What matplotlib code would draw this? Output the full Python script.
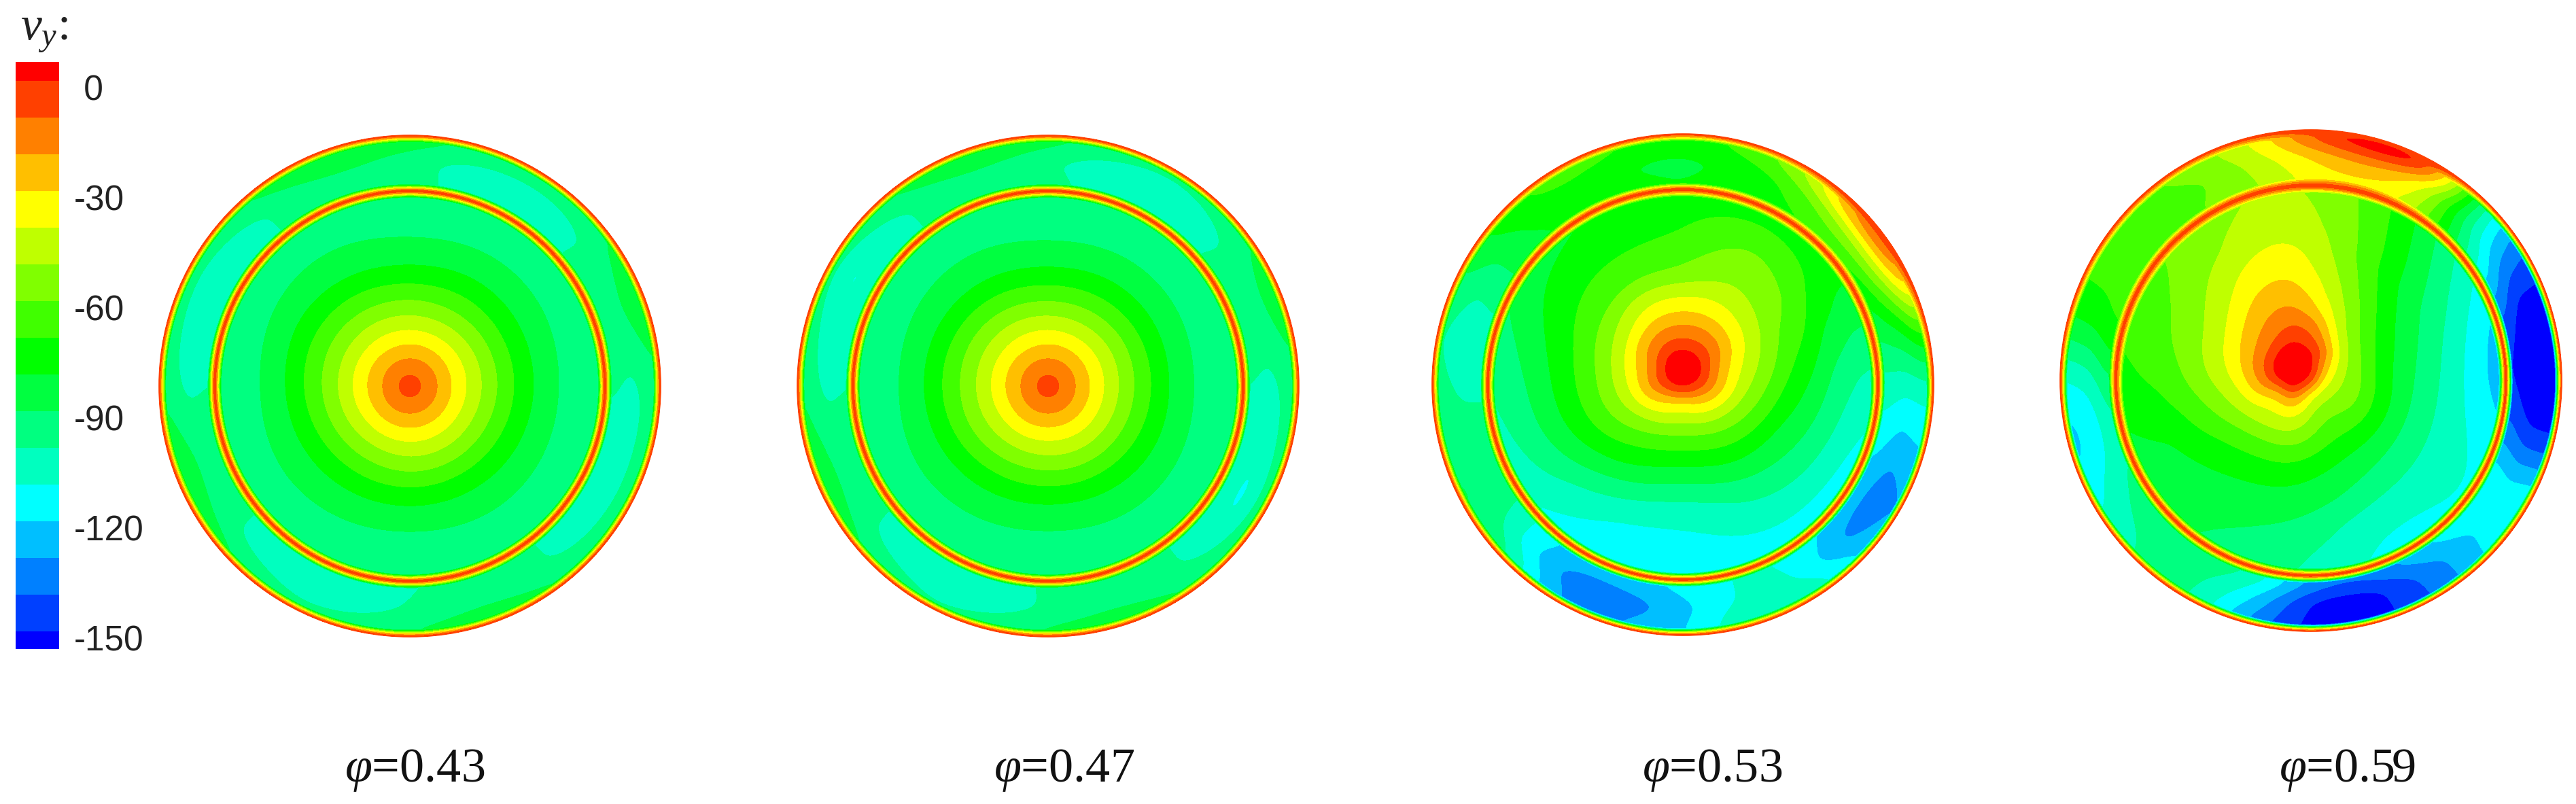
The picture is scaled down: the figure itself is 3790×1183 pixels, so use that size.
import numpy as np
import matplotlib
matplotlib.use("Agg")
import matplotlib.pyplot as plt
from matplotlib.colors import ListedColormap
from matplotlib.patches import Circle

plt.rcParams['mathtext.fontset'] = 'custom'
plt.rcParams['mathtext.rm'] = 'Liberation Serif'
plt.rcParams['mathtext.it'] = 'Liberation Serif:italic'

# legend
band_edges = [-148.2, -138.2, -128.2, -118.2, -108.2, -98.2, -88.2, -78.2,
              -68.2, -58.2, -48.2, -38.2, -28.2, -18.2, -8.2, 1.8]
legend_limits = [-153.0, 6.9]
band_colors = ['#0000ff', '#0040ff', '#0080ff', '#00bfff', '#00ffff', '#00ffbf',
               '#00ff80', '#00ff40', '#00ff00', '#40ff00', '#80ff00', '#bfff00',
               '#ffff00', '#ffbf00', '#ff8000', '#ff4000', '#ff0000']
tick_values = [0, -30, -60, -90, -120, -150]
tick_labels = [' 0', '-30', '-60', '-90', '-120', '-150']
phi_labels = ['0.43', '0.47', '0.53', '0.59']

# read along rays out of the core, every 30 deg, s = fraction of the way to the inner wall
disc_s = [0.08, 0.16, 0.24, 0.32, 0.42, 0.54, 0.66, 0.78, 0.90, 1.0]
disc_angles = [0, 30, 60, 90, 120, 150, 180, 210, 240, 270, 300, 330]
# annulus: every 15 deg, near inner wall / middle / near outer wall
gap_t = [0.15, 0.5, 0.85]
gap_angles = [0, 15, 30, 45, 60, 75, 90, 105, 120, 135, 150, 165,
              180, 195, 210, 225, 240, 255, 270, 285, 300, 315, 330, 345]

core_043 = -4
disc_043 = [
    [-10, -21, -32, -42, -55, -69, -81, -90, -94, -96],
    [-10, -21, -32, -42, -55, -69, -80, -88, -93, -95],
    [-10, -21, -32, -43, -56, -69, -80, -88, -93, -99],
    [-10, -21, -32, -43, -56, -71, -83, -90, -95, -97],
    [-10, -21, -32, -42, -55, -68, -80, -87, -92, -96],
    [-10, -21, -31, -42, -54, -67, -78, -87, -93, -100],
    [-10, -21, -31, -42, -55, -68, -81, -90, -94, -96],
    [-10, -21, -32, -43, -56, -70, -81, -88, -93, -97],
    [-10, -21, -32, -44, -57, -71, -82, -89, -94, -100],
    [-10, -21, -32, -43, -56, -71, -83, -91, -95, -96],
    [-10, -21, -32, -43, -56, -71, -82, -89, -93, -96],
    [-10, -21, -32, -43, -56, -70, -81, -89, -93, -100],
]
gap_043 = [
    [-97, -103, -93], [-90, -88, -82], [-92, -90, -84], [-101, -103, -93],
    [-102, -104, -94], [-102, -104, -90], [-94, -93, -84], [-92, -88, -82],
    [-94, -90, -82], [-101, -103, -90], [-102, -106, -96], [-101, -105, -94],
    [-99, -103, -92], [-92, -88, -82], [-94, -90, -82], [-101, -103, -88],
    [-102, -105, -98], [-102, -105, -95], [-100, -97, -88], [-93, -90, -84],
    [-94, -92, -86], [-102, -103, -90], [-102, -105, -93], [-102, -104, -92],
]

core_047 = -4
disc_047 = [
    [-10, -21, -32, -43, -56, -70, -83, -91, -94, -96],
    [-10, -21, -32, -42, -55, -69, -81, -89, -93, -96],
    [-10, -21, -32, -43, -56, -70, -81, -89, -94, -100],
    [-10, -21, -32, -43, -57, -72, -84, -91, -95, -97],
    [-10, -21, -32, -42, -55, -69, -81, -88, -93, -97],
    [-10, -21, -31, -42, -54, -68, -80, -88, -94, -101],
    [-10, -21, -31, -42, -55, -68, -81, -90, -95, -97],
    [-10, -21, -32, -43, -55, -69, -81, -88, -93, -97],
    [-10, -21, -32, -44, -57, -71, -82, -89, -94, -100],
    [-10, -21, -33, -44, -57, -72, -84, -91, -95, -96],
    [-10, -21, -32, -43, -56, -71, -82, -89, -93, -96],
    [-10, -21, -32, -43, -56, -70, -81, -89, -94, -101],
]
gap_047 = [
    [-99, -104, -93], [-91, -90, -84], [-92, -90, -85], [-101, -104, -94],
    [-103, -113, -97], [-102, -106, -92], [-95, -96, -85], [-92, -89, -82],
    [-94, -91, -83], [-102, -104, -91], [-103, -113, -98], [-101, -106, -94],
    [-99, -103, -90], [-93, -90, -83], [-94, -90, -83], [-102, -104, -90],
    [-103, -107, -99], [-102, -106, -95], [-97, -96, -86], [-93, -90, -84],
    [-95, -93, -87], [-102, -104, -91], [-103, -114, -95], [-102, -106, -93],
]

core_053 = 9
disc_053 = [
    [6, -14, -30, -42, -53, -66.5, -78.5, -91.5, -99, -101],
    [6, -7, -19, -31, -43, -54, -59, -68, -73, -74],
    [6, -7, -17, -28, -38, -46, -51, -56, -67, -72],
    [6, -7, -17.5, -28.5, -41, -58, -64, -70, -72, -73],
    [6, -7, -18, -29, -41, -57, -65, -72, -75, -77],
    [5, -10, -22, -37, -50, -62, -68, -73, -79, -85],
    [4, -16, -30.5, -43, -56.5, -67.5, -77.5, -87, -94.5, -98],
    [4, -13, -30, -45, -57, -69, -79, -89, -98, -103],
    [4, -24, -40, -55, -68, -80, -95, -108, -113, -118],
    [4, -32, -47.5, -61.5, -75, -91, -105, -111, -115, -116],
    [4, -22, -40, -55, -68, -81, -93, -102, -109, -117],
    [5, -14, -32, -48, -62, -78, -87, -97, -109, -116],
]
gap_053 = [
    [-103, -106, -105], [-85, -78, -60], [-72, -42, -5], [-65, -47, -10],
    [-70, -66, -52], [-75, -76, -65], [-79, -81, -75], [-76, -79, -68],
    [-74, -70, -62], [-80, -76, -71], [-90, -92, -85], [-104, -107, -100],
    [-100, -100, -96], [-95, -94, -90], [-90, -86, -86], [-112, -112, -95],
    [-125, -136, -136], [-122, -136, -128], [-116, -122, -122], [-106, -105, -97],
    [-108, -104, -98], [-122, -132, -118], [-125, -137, -133], [-113, -123, -118],
]

core_059 = 12
disc_059 = [
    [6, -28, -48, -60, -76, -87, -97, -110, -124, -133],
    [8, -8, -37, -54, -65, -77, -86, -92, -100, -108],
    [8, -4, -14, -30, -42, -51, -58, -60, -62, -63],
    [9, -1, -8, -15, -22, -28.5, -33, -39, -42, -44],
    [9, -5, -13, -19, -25, -33, -40, -47, -50, -52],
    [8, -7.5, -18, -26, -37, -47, -53, -58, -61, -62],
    [8, -7, -20, -32, -41, -50, -58, -63, -67, -70],
    [7, -10, -26, -40, -52, -63, -72, -79, -81, -83],
    [6, -25, -40, -48, -62, -74, -80, -85, -87, -88],
    [7, -18, -35, -48, -63, -75, -83, -89, -94, -97],
    [5, -38, -56, -65, -74, -85, -93, -106, -113, -116],
    [6, -36, -50, -55, -69, -85, -96, -101, -103, -105],
]
gap_059 = [
    [-150, -162, -162], [-145, -162, -158], [-118, -135, -142], [-88, -100, -108],
    [-40, -30, 6], [-30, -15, 12], [-33, -27, -5], [-50, -46, -42],
    [-58, -62, -55], [-63, -63, -62], [-64, -64, -64], [-66, -72, -74],
    [-92, -108, -112], [-103, -118, -124], [-95, -100, -110], [-92, -95, -96],
    [-90, -92, -91], [-100, -115, -130], [-135, -155, -155], [-138, -155, -155],
    [-122, -135, -138], [-112, -120, -118], [-104, -105, -100], [-135, -148, -150],
]

# image layout in pixels
W, H = 3790, 1183
R_IN, R_OUT = 287, 369
WALL_VALUE = -3
WALL_DEPTH = 10
panels = [
    (603, 568, 0, 0, core_043, disc_043, gap_043, phi_labels[0], 610),
    (1542, 568, 0, 0, core_047, disc_047, gap_047, phi_labels[1], 1566),
    (2476, 566, -1, 23, core_053, disc_053, gap_053, phi_labels[2], 2519),
    (3400, 560, -26, 21, core_059, disc_059, gap_059, phi_labels[3], 3453),
]


def soften(field, sigma, axis, wrap):
	# gaussian along one axis, done in fourier space
	field = np.moveaxis(field, axis, -1)
	pad = 0 if wrap else int(4 * sigma)
	if pad:
		field = np.pad(field, [(0, 0), (pad, pad)], mode='edge')
	k = np.fft.rfftfreq(field.shape[-1])
	out = np.fft.irfft(np.fft.rfft(field) * np.exp(-2 * (np.pi * k * sigma) ** 2), field.shape[-1])
	if pad:
		out = out[:, pad:-pad]
	return np.moveaxis(out, -1, axis)


def fine_field(stations, angles, table, n_st, sigma_st, sigma_ang):
	# table has one row per angle; 720 fine angles over the closed circle
	ang = np.arange(720) / 2.0
	step = angles[1] - angles[0]
	fine_st = np.linspace(0, 1, n_st)
	tab = np.array(table, float)
	by_ang = np.column_stack([np.interp(ang, list(angles) + [360], list(tab[:, j]) + [tab[0, j]])
		for j in range(tab.shape[1])])
	field = np.vstack([np.interp(fine_st, stations, row) for row in by_ang])
	field = soften(field, sigma_ang * step * 2, 0, True)
	field = soften(field, sigma_st * n_st, 1, False)
	return np.vstack([field, field[:1]]), fine_st


def draw_panel(ax, cx, cy, off_x, off_y, core, disc, gap):
	levels = [-400] + band_edges + [400]
	angle = np.radians(np.arange(721) / 2.0)
	cos_a = np.cos(angle)
	sin_a = np.sin(angle)

	# inner disc, rays start at the core
	table = np.column_stack([np.full(len(disc_angles), core), np.array(disc, float)])
	field, fine_s = fine_field([0] + disc_s, disc_angles, table, 420, 0.022, 0.38)
	proj = off_x * cos_a + off_y * sin_a
	ray = -proj + np.sqrt(proj ** 2 - (off_x ** 2 + off_y ** 2) + R_IN ** 2)
	dx = off_x + np.outer(ray, fine_s) * cos_a[:, None]
	dy = off_y + np.outer(ray, fine_s) * sin_a[:, None]
	depth = R_IN - np.hypot(dx, dy)
	blend = np.clip(depth / WALL_DEPTH, 0, 1) ** 1.4
	field = WALL_VALUE + (field - WALL_VALUE) * blend
	ax.contourf(cx + dx, cy - dy, field, levels=levels, colors=band_colors)

	# annulus
	table = np.array(gap, float)
	table = np.column_stack([table[:, 0], table, table[:, -1]])
	field, fine_t = fine_field([0] + gap_t + [1], gap_angles, table, 170, 0.09, 0.42)
	rad = R_IN + (R_OUT - R_IN) * fine_t
	depth = np.minimum(rad - R_IN, R_OUT - rad)
	blend = np.clip(depth / WALL_DEPTH, 0, 1) ** 1.4
	field = WALL_VALUE + (field - WALL_VALUE) * blend
	ax.contourf(cx + np.outer(cos_a, rad), cy - np.outer(sin_a, rad), field, levels=levels, colors=band_colors)

	for r in (R_IN, R_OUT):
		ax.add_patch(Circle((cx, cy), r, fill=False, ec='#ff4000', lw=1.2))


fig = plt.figure(figsize=(W / 100, H / 100), dpi=100)
ax = fig.add_axes([0, 0, 1, 1])
ax.set_xlim(0, W)
ax.set_ylim(H, 0)
ax.set_aspect('equal')
ax.axis('off')

for cx, cy, ox, oy, core, disc, gap, phi, lab_x in panels:
	draw_panel(ax, cx, cy, ox, oy, core, disc, gap)
	ax.text(lab_x, 1150, r'$\varphi$=' + phi, ha='center', va='baseline',
		fontsize=52, family='Liberation Serif', color='#111111')

# legend bar
cax = fig.add_axes([23 / W, 1 - 955 / H, 64 / W, 864 / H])
edges = [legend_limits[0]] + band_edges + [legend_limits[1]]
cax.pcolormesh([0, 1], edges, np.arange(len(band_colors))[:, None],
	cmap=ListedColormap(band_colors), shading='flat')
cax.set_xticks([])
cax.set_ylim(legend_limits)
cax.yaxis.tick_right()
cax.set_yticks(tick_values)
cax.set_yticklabels(tick_labels, family='Liberation Sans', fontsize=37, color='#222222')
cax.tick_params(axis='y', length=0, pad=16)
for sp in cax.spines.values():
	sp.set_visible(False)

ax.text(30, 58, r'$v_y$:', fontsize=50, family='Liberation Serif', va='baseline', color='#222222')

fig.savefig('out.png', dpi=100, facecolor='white')
